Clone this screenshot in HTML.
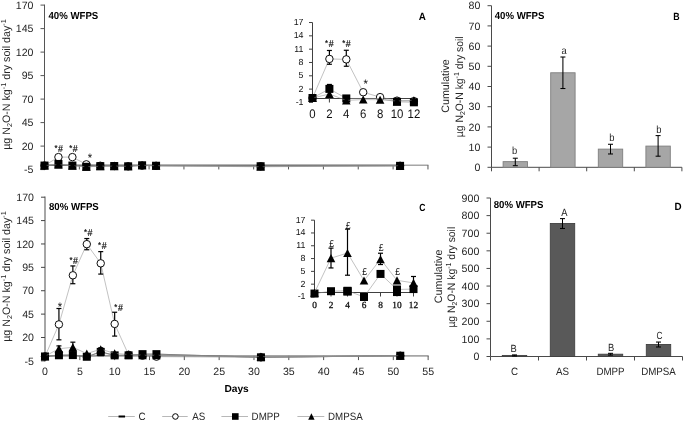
<!DOCTYPE html>
<html><head><meta charset="utf-8"><title>Figure</title>
<style>html,body{margin:0;padding:0;background:#fff}svg{display:block}text{text-rendering:geometricPrecision}</style></head>
<body>
<svg width="685" height="422" viewBox="0 0 685 422" font-family='"Liberation Sans", sans-serif'>
<rect width="685" height="422" fill="#fff"/>
<line x1="44.50" y1="4.60" x2="44.50" y2="170.10" stroke="#555" stroke-width="1.0"/>
<line x1="40.50" y1="5.10" x2="44.50" y2="5.10" stroke="#555" stroke-width="1.0"/>
<text transform="translate(33.50,8.80)" font-size="10.6" text-anchor="end" fill="#262626">170</text>
<line x1="40.50" y1="28.60" x2="44.50" y2="28.60" stroke="#555" stroke-width="1.0"/>
<text transform="translate(33.50,32.30)" font-size="10.6" text-anchor="end" fill="#262626">145</text>
<line x1="40.50" y1="52.10" x2="44.50" y2="52.10" stroke="#555" stroke-width="1.0"/>
<text transform="translate(33.50,55.80)" font-size="10.6" text-anchor="end" fill="#262626">120</text>
<line x1="40.50" y1="75.60" x2="44.50" y2="75.60" stroke="#555" stroke-width="1.0"/>
<text transform="translate(33.50,79.30)" font-size="10.6" text-anchor="end" fill="#262626">95</text>
<line x1="40.50" y1="99.10" x2="44.50" y2="99.10" stroke="#555" stroke-width="1.0"/>
<text transform="translate(33.50,102.80)" font-size="10.6" text-anchor="end" fill="#262626">70</text>
<line x1="40.50" y1="122.60" x2="44.50" y2="122.60" stroke="#555" stroke-width="1.0"/>
<text transform="translate(33.50,126.30)" font-size="10.6" text-anchor="end" fill="#262626">45</text>
<line x1="40.50" y1="146.10" x2="44.50" y2="146.10" stroke="#555" stroke-width="1.0"/>
<text transform="translate(33.50,149.80)" font-size="10.6" text-anchor="end" fill="#262626">20</text>
<line x1="40.50" y1="169.60" x2="44.50" y2="169.60" stroke="#555" stroke-width="1.0"/>
<text transform="translate(33.50,173.30)" font-size="10.6" text-anchor="end" fill="#262626">-5</text>
<line x1="44.50" y1="165.25" x2="428.46" y2="165.25" stroke="#a6a6a6" stroke-width="1.4"/>
<line x1="44.50" y1="165.25" x2="44.50" y2="169.45" stroke="#555" stroke-width="1.0"/>
<line x1="79.36" y1="165.25" x2="79.36" y2="169.45" stroke="#555" stroke-width="1.0"/>
<line x1="114.22" y1="165.25" x2="114.22" y2="169.45" stroke="#555" stroke-width="1.0"/>
<line x1="149.08" y1="165.25" x2="149.08" y2="169.45" stroke="#555" stroke-width="1.0"/>
<line x1="183.94" y1="165.25" x2="183.94" y2="169.45" stroke="#555" stroke-width="1.0"/>
<line x1="218.80" y1="165.25" x2="218.80" y2="169.45" stroke="#555" stroke-width="1.0"/>
<line x1="253.66" y1="165.25" x2="253.66" y2="169.45" stroke="#555" stroke-width="1.0"/>
<line x1="288.52" y1="165.25" x2="288.52" y2="169.45" stroke="#555" stroke-width="1.0"/>
<line x1="323.38" y1="165.25" x2="323.38" y2="169.45" stroke="#555" stroke-width="1.0"/>
<line x1="358.24" y1="165.25" x2="358.24" y2="169.45" stroke="#555" stroke-width="1.0"/>
<line x1="393.10" y1="165.25" x2="393.10" y2="169.45" stroke="#555" stroke-width="1.0"/>
<line x1="427.96" y1="165.25" x2="427.96" y2="169.45" stroke="#555" stroke-width="1.0"/>
<polyline points="44.50,165.25 400.07,165.25" fill="none" stroke="#4d4d4d" stroke-width="0.9"/>
<text transform="translate(48.50,18.50) scale(0.945,1)" font-size="10.2" text-anchor="start" font-weight="bold" fill="#000">40% WFPS</text>
<text transform="translate(422.20,20.00) scale(0.945,1)" font-size="10.4" text-anchor="middle" font-weight="bold" fill="#000">A</text>
<text transform="translate(10.40,84.50) rotate(-90) scale(0.99,1)" font-size="10.8" text-anchor="middle" fill="#262626">µg N<tspan font-size="7.2" dy="2">2</tspan><tspan dy="-2">O-N kg</tspan><tspan font-size="7.4" dy="-4">-1</tspan><tspan dy="4"> dry soil day</tspan><tspan font-size="7.4" dy="-4">-1</tspan></text>
<polyline points="44.50,165.56 58.44,163.96 72.39,165.56 86.33,166.78 100.28,166.12 114.22,166.03 128.16,166.31 142.11,165.28 156.05,165.75 260.63,166.22 400.07,165.84" fill="none" stroke="#8f8f8f" stroke-width="0.55"/>
<rect x="41.25" y="164.56" width="6.5" height="2.0" fill="#000"/>
<rect x="55.19" y="162.96" width="6.5" height="2.0" fill="#000"/>
<rect x="69.14" y="164.56" width="6.5" height="2.0" fill="#000"/>
<rect x="83.08" y="165.78" width="6.5" height="2.0" fill="#000"/>
<rect x="97.03" y="165.12" width="6.5" height="2.0" fill="#000"/>
<rect x="110.97" y="165.03" width="6.5" height="2.0" fill="#000"/>
<rect x="124.91" y="165.31" width="6.5" height="2.0" fill="#000"/>
<rect x="138.86" y="164.28" width="6.5" height="2.0" fill="#000"/>
<rect x="152.80" y="164.75" width="6.5" height="2.0" fill="#000"/>
<rect x="257.38" y="165.22" width="6.5" height="2.0" fill="#000"/>
<rect x="396.82" y="164.84" width="6.5" height="2.0" fill="#000"/>
<polyline points="44.50,165.56 58.44,157.10 72.39,157.10 86.33,164.34 100.28,165.75 114.22,166.03 128.16,166.31 142.11,165.65 156.05,165.84 260.63,166.31 400.07,165.84" fill="none" stroke="#8f8f8f" stroke-width="0.55"/>
<circle cx="44.50" cy="165.56" r="3.73" fill="#fff" stroke="#000" stroke-width="0.95"/>
<circle cx="58.44" cy="157.10" r="3.73" fill="#fff" stroke="#000" stroke-width="0.95"/>
<circle cx="72.39" cy="157.10" r="3.73" fill="#fff" stroke="#000" stroke-width="0.95"/>
<circle cx="86.33" cy="164.34" r="3.73" fill="#fff" stroke="#000" stroke-width="0.95"/>
<circle cx="100.28" cy="165.75" r="3.73" fill="#fff" stroke="#000" stroke-width="0.95"/>
<circle cx="114.22" cy="166.03" r="3.73" fill="#fff" stroke="#000" stroke-width="0.95"/>
<circle cx="128.16" cy="166.31" r="3.73" fill="#fff" stroke="#000" stroke-width="0.95"/>
<circle cx="142.11" cy="165.65" r="3.73" fill="#fff" stroke="#000" stroke-width="0.95"/>
<circle cx="156.05" cy="165.84" r="3.73" fill="#fff" stroke="#000" stroke-width="0.95"/>
<circle cx="260.63" cy="166.31" r="3.73" fill="#fff" stroke="#000" stroke-width="0.95"/>
<circle cx="400.07" cy="165.84" r="3.73" fill="#fff" stroke="#000" stroke-width="0.95"/>
<polyline points="44.50,165.56 58.44,163.96 72.39,165.56 86.33,166.78 100.28,166.12 114.22,166.03 128.16,166.31 142.11,165.28 156.05,165.75 260.63,166.22 400.07,165.84" fill="none" stroke="#8f8f8f" stroke-width="0.55"/>
<rect x="40.50" y="161.56" width="8.0" height="8.0" fill="#000"/>
<rect x="54.44" y="159.96" width="8.0" height="8.0" fill="#000"/>
<rect x="68.39" y="161.56" width="8.0" height="8.0" fill="#000"/>
<rect x="82.33" y="162.78" width="8.0" height="8.0" fill="#000"/>
<rect x="96.28" y="162.12" width="8.0" height="8.0" fill="#000"/>
<rect x="110.22" y="162.03" width="8.0" height="8.0" fill="#000"/>
<rect x="124.16" y="162.31" width="8.0" height="8.0" fill="#000"/>
<rect x="138.11" y="161.28" width="8.0" height="8.0" fill="#000"/>
<rect x="152.05" y="161.75" width="8.0" height="8.0" fill="#000"/>
<rect x="256.63" y="162.22" width="8.0" height="8.0" fill="#000"/>
<rect x="396.07" y="161.84" width="8.0" height="8.0" fill="#000"/>
<polyline points="44.50,165.56 58.44,164.62 72.39,165.75 86.33,166.78 100.28,166.22 114.22,166.12 128.16,166.31 142.11,165.28 156.05,165.75 260.63,166.78 400.07,165.84" fill="none" stroke="#8f8f8f" stroke-width="0.55"/>
<polygon points="44.50,161.51 48.80,169.61 40.20,169.61" fill="#000"/>
<polygon points="58.44,160.57 62.74,168.67 54.14,168.67" fill="#000"/>
<polygon points="72.39,161.70 76.69,169.80 68.09,169.80" fill="#000"/>
<polygon points="86.33,162.73 90.63,170.83 82.03,170.83" fill="#000"/>
<polygon points="100.28,162.17 104.58,170.27 95.98,170.27" fill="#000"/>
<polygon points="114.22,162.07 118.52,170.17 109.92,170.17" fill="#000"/>
<polygon points="128.16,162.26 132.46,170.36 123.86,170.36" fill="#000"/>
<polygon points="142.11,161.23 146.41,169.33 137.81,169.33" fill="#000"/>
<polygon points="156.05,161.70 160.35,169.80 151.75,169.80" fill="#000"/>
<polygon points="260.63,162.73 264.93,170.83 256.33,170.83" fill="#000"/>
<polygon points="400.07,161.79 404.37,169.89 395.77,169.89" fill="#000"/>
<text transform="translate(58.64,151.60) scale(0.9,1)" font-size="9.8" text-anchor="middle" fill="#111" stroke="#111" stroke-width="0.2"><tspan font-size="8.6" dy="-1.1">*</tspan><tspan dy="1.1" dx="0.6">#</tspan></text>
<text transform="translate(73.39,151.60) scale(0.9,1)" font-size="9.8" text-anchor="middle" fill="#111" stroke="#111" stroke-width="0.2"><tspan font-size="8.6" dy="-1.1">*</tspan><tspan dy="1.1" dx="0.6">#</tspan></text>
<text transform="translate(89.93,162.44) scale(0.9,1)" font-size="12.5" text-anchor="middle" fill="#111">*</text>
<line x1="312.50" y1="22.52" x2="312.50" y2="102.44" stroke="#404040" stroke-width="1"/>
<line x1="309.00" y1="22.52" x2="312.50" y2="22.52" stroke="#404040" stroke-width="1"/>
<text transform="translate(303.50,25.02)" font-size="8.8" text-anchor="end" fill="#111">17</text>
<line x1="309.00" y1="35.84" x2="312.50" y2="35.84" stroke="#404040" stroke-width="1"/>
<text transform="translate(303.50,38.34)" font-size="8.8" text-anchor="end" fill="#111">14</text>
<line x1="309.00" y1="49.16" x2="312.50" y2="49.16" stroke="#404040" stroke-width="1"/>
<text transform="translate(303.50,51.66)" font-size="8.8" text-anchor="end" fill="#111">11</text>
<line x1="309.00" y1="62.48" x2="312.50" y2="62.48" stroke="#404040" stroke-width="1"/>
<text transform="translate(303.50,64.98)" font-size="8.8" text-anchor="end" fill="#111">8</text>
<line x1="309.00" y1="75.80" x2="312.50" y2="75.80" stroke="#404040" stroke-width="1"/>
<text transform="translate(303.50,78.30)" font-size="8.8" text-anchor="end" fill="#111">5</text>
<line x1="309.00" y1="89.12" x2="312.50" y2="89.12" stroke="#404040" stroke-width="1"/>
<text transform="translate(303.50,91.62)" font-size="8.8" text-anchor="end" fill="#111">2</text>
<line x1="309.00" y1="102.44" x2="312.50" y2="102.44" stroke="#404040" stroke-width="1"/>
<text transform="translate(303.50,104.94)" font-size="8.8" text-anchor="end" fill="#111">-1</text>
<line x1="312.50" y1="98.50" x2="416.90" y2="98.50" stroke="#404040" stroke-width="1"/>
<line x1="312.50" y1="98.50" x2="312.50" y2="102.50" stroke="#404040" stroke-width="1"/>
<text transform="translate(312.50,118.10) scale(0.92,1)" font-size="12.4" text-anchor="middle" fill="#111">0</text>
<line x1="329.40" y1="98.50" x2="329.40" y2="102.50" stroke="#404040" stroke-width="1"/>
<text transform="translate(329.40,118.10) scale(0.92,1)" font-size="12.4" text-anchor="middle" fill="#111">2</text>
<line x1="346.30" y1="98.50" x2="346.30" y2="102.50" stroke="#404040" stroke-width="1"/>
<text transform="translate(346.30,118.10) scale(0.92,1)" font-size="12.4" text-anchor="middle" fill="#111">4</text>
<line x1="363.20" y1="98.50" x2="363.20" y2="102.50" stroke="#404040" stroke-width="1"/>
<text transform="translate(363.20,118.10) scale(0.92,1)" font-size="12.4" text-anchor="middle" fill="#111">6</text>
<line x1="380.10" y1="98.50" x2="380.10" y2="102.50" stroke="#404040" stroke-width="1"/>
<text transform="translate(380.10,118.10) scale(0.92,1)" font-size="12.4" text-anchor="middle" fill="#111">8</text>
<line x1="397.00" y1="98.50" x2="397.00" y2="102.50" stroke="#404040" stroke-width="1"/>
<text transform="translate(397.00,118.10) scale(0.92,1)" font-size="12.4" text-anchor="middle" fill="#111">10</text>
<line x1="413.90" y1="98.50" x2="413.90" y2="102.50" stroke="#404040" stroke-width="1"/>
<text transform="translate(413.90,118.10) scale(0.92,1)" font-size="12.4" text-anchor="middle" fill="#111">12</text>
<polyline points="" fill="none" stroke="#8f8f8f" stroke-width="0.55"/>
<polyline points="312.50,98.00 329.40,58.93 346.30,59.37 363.20,92.23 380.10,97.11 397.00,100.66 413.90,101.11" fill="none" stroke="#8f8f8f" stroke-width="0.55"/>
<line x1="329.40" y1="50.49" x2="329.40" y2="64.26" stroke="#000" stroke-width="1.2"/>
<line x1="326.90" y1="50.49" x2="331.90" y2="50.49" stroke="#000" stroke-width="1.2"/>
<line x1="326.90" y1="64.26" x2="331.90" y2="64.26" stroke="#000" stroke-width="1.2"/>
<line x1="346.30" y1="50.27" x2="346.30" y2="66.25" stroke="#000" stroke-width="1.2"/>
<line x1="343.80" y1="50.27" x2="348.80" y2="50.27" stroke="#000" stroke-width="1.2"/>
<line x1="343.80" y1="66.25" x2="348.80" y2="66.25" stroke="#000" stroke-width="1.2"/>
<circle cx="312.50" cy="98.00" r="3.73" fill="#fff" stroke="#000" stroke-width="0.95"/>
<circle cx="329.40" cy="58.93" r="3.73" fill="#fff" stroke="#000" stroke-width="0.95"/>
<circle cx="346.30" cy="59.37" r="3.73" fill="#fff" stroke="#000" stroke-width="0.95"/>
<circle cx="363.20" cy="92.23" r="3.73" fill="#fff" stroke="#000" stroke-width="0.95"/>
<circle cx="380.10" cy="97.11" r="3.73" fill="#fff" stroke="#000" stroke-width="0.95"/>
<circle cx="397.00" cy="100.66" r="3.73" fill="#fff" stroke="#000" stroke-width="0.95"/>
<circle cx="413.90" cy="101.11" r="3.73" fill="#fff" stroke="#000" stroke-width="0.95"/>
<polyline points="312.50,98.00 329.40,88.90 346.30,98.44 363.20,98.44 380.10,98.44 397.00,101.82 413.90,102.31" fill="none" stroke="#8f8f8f" stroke-width="0.55"/>
<line x1="329.40" y1="84.46" x2="329.40" y2="88.90" stroke="#000" stroke-width="1.2"/>
<line x1="326.90" y1="84.46" x2="331.90" y2="84.46" stroke="#000" stroke-width="1.2"/>
<rect x="308.50" y="94.00" width="8.0" height="8.0" fill="#000"/>
<rect x="325.40" y="84.90" width="8.0" height="8.0" fill="#000"/>
<rect x="342.30" y="94.44" width="8.0" height="8.0" fill="#000"/>
<rect x="393.00" y="97.82" width="8.0" height="8.0" fill="#000"/>
<rect x="409.90" y="98.31" width="8.0" height="8.0" fill="#000"/>
<polyline points="312.50,98.00 329.40,94.00 346.30,100.44 363.20,99.55 380.10,99.78 397.00,101.11 413.90,100.22" fill="none" stroke="#8f8f8f" stroke-width="0.55"/>
<polygon points="312.50,93.95 316.80,102.05 308.20,102.05" fill="#000"/>
<polygon points="329.40,89.95 333.70,98.05 325.10,98.05" fill="#000"/>
<polygon points="346.30,96.39 350.60,104.49 342.00,104.49" fill="#000"/>
<polygon points="363.20,95.50 367.50,103.60 358.90,103.60" fill="#000"/>
<polygon points="380.10,95.73 384.40,103.83 375.80,103.83" fill="#000"/>
<polygon points="397.00,97.06 401.30,105.16 392.70,105.16" fill="#000"/>
<polygon points="413.90,96.17 418.20,104.27 409.60,104.27" fill="#000"/>
<text transform="translate(329.30,46.63) scale(0.9,1)" font-size="9.8" text-anchor="middle" fill="#111" stroke="#111" stroke-width="0.2"><tspan font-size="8.6" dy="-1.1">*</tspan><tspan dy="1.1" dx="0.6">#</tspan></text>
<text transform="translate(346.50,46.67) scale(0.9,1)" font-size="9.8" text-anchor="middle" fill="#111" stroke="#111" stroke-width="0.2"><tspan font-size="8.6" dy="-1.1">*</tspan><tspan dy="1.1" dx="0.6">#</tspan></text>
<text transform="translate(365.60,88.33) scale(0.9,1)" font-size="12.5" text-anchor="middle" fill="#111">*</text>
<line x1="45.00" y1="196.60" x2="45.00" y2="361.38" stroke="#a6a6a6" stroke-width="2.0"/>
<line x1="41.00" y1="197.20" x2="45.00" y2="197.20" stroke="#444" stroke-width="1.0"/>
<text transform="translate(34.00,200.90)" font-size="10.6" text-anchor="end" fill="#262626">170</text>
<line x1="41.00" y1="220.58" x2="45.00" y2="220.58" stroke="#444" stroke-width="1.0"/>
<text transform="translate(34.00,224.28)" font-size="10.6" text-anchor="end" fill="#262626">145</text>
<line x1="41.00" y1="243.96" x2="45.00" y2="243.96" stroke="#444" stroke-width="1.0"/>
<text transform="translate(34.00,247.66)" font-size="10.6" text-anchor="end" fill="#262626">120</text>
<line x1="41.00" y1="267.35" x2="45.00" y2="267.35" stroke="#444" stroke-width="1.0"/>
<text transform="translate(34.00,271.05)" font-size="10.6" text-anchor="end" fill="#262626">95</text>
<line x1="41.00" y1="290.73" x2="45.00" y2="290.73" stroke="#444" stroke-width="1.0"/>
<text transform="translate(34.00,294.43)" font-size="10.6" text-anchor="end" fill="#262626">70</text>
<line x1="41.00" y1="314.11" x2="45.00" y2="314.11" stroke="#444" stroke-width="1.0"/>
<text transform="translate(34.00,317.81)" font-size="10.6" text-anchor="end" fill="#262626">45</text>
<line x1="41.00" y1="337.49" x2="45.00" y2="337.49" stroke="#444" stroke-width="1.0"/>
<text transform="translate(34.00,341.19)" font-size="10.6" text-anchor="end" fill="#262626">20</text>
<line x1="41.00" y1="360.88" x2="45.00" y2="360.88" stroke="#444" stroke-width="1.0"/>
<text transform="translate(34.00,364.58)" font-size="10.6" text-anchor="end" fill="#262626">-5</text>
<line x1="45.00" y1="355.90" x2="428.63" y2="355.90" stroke="#a6a6a6" stroke-width="1.7"/>
<line x1="45.00" y1="355.90" x2="45.00" y2="360.10" stroke="#555" stroke-width="1.0"/>
<line x1="79.83" y1="355.90" x2="79.83" y2="360.10" stroke="#555" stroke-width="1.0"/>
<line x1="114.66" y1="355.90" x2="114.66" y2="360.10" stroke="#555" stroke-width="1.0"/>
<line x1="149.49" y1="355.90" x2="149.49" y2="360.10" stroke="#555" stroke-width="1.0"/>
<line x1="184.32" y1="355.90" x2="184.32" y2="360.10" stroke="#555" stroke-width="1.0"/>
<line x1="219.15" y1="355.90" x2="219.15" y2="360.10" stroke="#555" stroke-width="1.0"/>
<line x1="253.98" y1="355.90" x2="253.98" y2="360.10" stroke="#555" stroke-width="1.0"/>
<line x1="288.81" y1="355.90" x2="288.81" y2="360.10" stroke="#555" stroke-width="1.0"/>
<line x1="323.64" y1="355.90" x2="323.64" y2="360.10" stroke="#555" stroke-width="1.0"/>
<line x1="358.47" y1="355.90" x2="358.47" y2="360.10" stroke="#555" stroke-width="1.0"/>
<line x1="393.30" y1="355.90" x2="393.30" y2="360.10" stroke="#555" stroke-width="1.0"/>
<line x1="428.13" y1="355.90" x2="428.13" y2="360.10" stroke="#555" stroke-width="1.0"/>
<polyline points="45.00,356.48 58.93,355.26 72.86,355.08 86.80,356.76 100.73,351.90 114.66,355.36 128.59,355.36 142.52,354.14 156.46,354.14 260.95,357.32 400.27,355.73" fill="none" stroke="#555" stroke-width="0.85"/>
<text transform="translate(49.00,209.60) scale(0.945,1)" font-size="10.2" text-anchor="start" font-weight="bold" fill="#000">80% WFPS</text>
<text transform="translate(422.40,210.60) scale(0.82,1)" font-size="10.4" text-anchor="middle" font-weight="bold" fill="#000">C</text>
<text transform="translate(10.40,276.50) rotate(-90) scale(0.99,1)" font-size="10.8" text-anchor="middle" fill="#262626">µg N<tspan font-size="7.2" dy="2">2</tspan><tspan dy="-2">O-N kg</tspan><tspan font-size="7.4" dy="-4">-1</tspan><tspan dy="4"> dry soil day</tspan><tspan font-size="7.4" dy="-4">-1</tspan></text>
<polyline points="45.00,356.48 58.93,355.26 72.86,355.08 86.80,356.76 100.73,355.26 114.66,355.36 128.59,355.36 142.52,355.26 156.46,355.26 260.95,357.32 400.27,355.73" fill="none" stroke="#8f8f8f" stroke-width="0.55"/>
<rect x="41.75" y="355.48" width="6.5" height="2.0" fill="#000"/>
<rect x="55.68" y="354.26" width="6.5" height="2.0" fill="#000"/>
<rect x="69.61" y="354.08" width="6.5" height="2.0" fill="#000"/>
<rect x="83.55" y="355.76" width="6.5" height="2.0" fill="#000"/>
<rect x="97.48" y="354.26" width="6.5" height="2.0" fill="#000"/>
<rect x="111.41" y="354.36" width="6.5" height="2.0" fill="#000"/>
<rect x="125.34" y="354.36" width="6.5" height="2.0" fill="#000"/>
<rect x="139.27" y="354.26" width="6.5" height="2.0" fill="#000"/>
<rect x="153.21" y="354.26" width="6.5" height="2.0" fill="#000"/>
<rect x="257.70" y="356.32" width="6.5" height="2.0" fill="#000"/>
<rect x="397.02" y="354.73" width="6.5" height="2.0" fill="#000"/>
<polyline points="45.00,356.48 58.93,324.40 72.86,275.30 86.80,244.15 100.73,263.32 114.66,323.93 128.59,354.80 142.52,355.73 156.46,356.67 260.95,357.32 400.27,355.73" fill="none" stroke="#8f8f8f" stroke-width="0.55"/>
<line x1="58.93" y1="308.50" x2="58.93" y2="339.83" stroke="#000" stroke-width="1.2"/>
<line x1="56.43" y1="308.50" x2="61.43" y2="308.50" stroke="#000" stroke-width="1.2"/>
<line x1="56.43" y1="339.83" x2="61.43" y2="339.83" stroke="#000" stroke-width="1.2"/>
<line x1="72.86" y1="265.94" x2="72.86" y2="283.71" stroke="#000" stroke-width="1.2"/>
<line x1="70.36" y1="265.94" x2="75.36" y2="265.94" stroke="#000" stroke-width="1.2"/>
<line x1="70.36" y1="283.71" x2="75.36" y2="283.71" stroke="#000" stroke-width="1.2"/>
<line x1="86.80" y1="238.54" x2="86.80" y2="249.76" stroke="#000" stroke-width="1.2"/>
<line x1="84.30" y1="238.54" x2="89.30" y2="238.54" stroke="#000" stroke-width="1.2"/>
<line x1="84.30" y1="249.76" x2="89.30" y2="249.76" stroke="#000" stroke-width="1.2"/>
<line x1="100.73" y1="251.63" x2="100.73" y2="274.08" stroke="#000" stroke-width="1.2"/>
<line x1="98.23" y1="251.63" x2="103.23" y2="251.63" stroke="#000" stroke-width="1.2"/>
<line x1="98.23" y1="274.08" x2="103.23" y2="274.08" stroke="#000" stroke-width="1.2"/>
<line x1="114.66" y1="312.24" x2="114.66" y2="336.09" stroke="#000" stroke-width="1.2"/>
<line x1="112.16" y1="312.24" x2="117.16" y2="312.24" stroke="#000" stroke-width="1.2"/>
<line x1="112.16" y1="336.09" x2="117.16" y2="336.09" stroke="#000" stroke-width="1.2"/>
<circle cx="45.00" cy="356.48" r="3.73" fill="#fff" stroke="#000" stroke-width="0.95"/>
<circle cx="58.93" cy="324.40" r="3.73" fill="#fff" stroke="#000" stroke-width="0.95"/>
<circle cx="72.86" cy="275.30" r="3.73" fill="#fff" stroke="#000" stroke-width="0.95"/>
<circle cx="86.80" cy="244.15" r="3.73" fill="#fff" stroke="#000" stroke-width="0.95"/>
<circle cx="100.73" cy="263.32" r="3.73" fill="#fff" stroke="#000" stroke-width="0.95"/>
<circle cx="114.66" cy="323.93" r="3.73" fill="#fff" stroke="#000" stroke-width="0.95"/>
<circle cx="128.59" cy="354.80" r="3.73" fill="#fff" stroke="#000" stroke-width="0.95"/>
<circle cx="142.52" cy="355.73" r="3.73" fill="#fff" stroke="#000" stroke-width="0.95"/>
<circle cx="156.46" cy="356.67" r="3.73" fill="#fff" stroke="#000" stroke-width="0.95"/>
<circle cx="260.95" cy="357.32" r="3.73" fill="#fff" stroke="#000" stroke-width="0.95"/>
<circle cx="400.27" cy="355.73" r="3.73" fill="#fff" stroke="#000" stroke-width="0.95"/>
<polyline points="45.00,356.48 58.93,355.26 72.86,355.08 86.80,356.76 100.73,351.90 114.66,355.36 128.59,355.36 142.52,354.14 156.46,354.14 260.95,357.32 400.27,355.73" fill="none" stroke="#8f8f8f" stroke-width="0.55"/>
<rect x="41.00" y="352.48" width="8.0" height="8.0" fill="#000"/>
<rect x="54.93" y="351.26" width="8.0" height="8.0" fill="#000"/>
<rect x="68.86" y="351.08" width="8.0" height="8.0" fill="#000"/>
<rect x="82.80" y="352.76" width="8.0" height="8.0" fill="#000"/>
<rect x="96.73" y="347.90" width="8.0" height="8.0" fill="#000"/>
<rect x="110.66" y="351.36" width="8.0" height="8.0" fill="#000"/>
<rect x="124.59" y="351.36" width="8.0" height="8.0" fill="#000"/>
<rect x="138.52" y="350.14" width="8.0" height="8.0" fill="#000"/>
<rect x="152.46" y="350.14" width="8.0" height="8.0" fill="#000"/>
<rect x="256.95" y="353.32" width="8.0" height="8.0" fill="#000"/>
<rect x="396.27" y="351.73" width="8.0" height="8.0" fill="#000"/>
<polyline points="45.00,356.20 58.93,348.72 72.86,347.31 86.80,353.58 100.73,349.19 114.66,353.39 128.59,354.52 142.52,355.26 156.46,355.26 260.95,356.67 400.27,355.73" fill="none" stroke="#8f8f8f" stroke-width="0.55"/>
<line x1="58.93" y1="345.91" x2="58.93" y2="351.06" stroke="#000" stroke-width="1.2"/>
<line x1="56.43" y1="345.91" x2="61.43" y2="345.91" stroke="#000" stroke-width="1.2"/>
<line x1="56.43" y1="351.06" x2="61.43" y2="351.06" stroke="#000" stroke-width="1.2"/>
<line x1="72.86" y1="342.17" x2="72.86" y2="351.99" stroke="#000" stroke-width="1.2"/>
<line x1="70.36" y1="342.17" x2="75.36" y2="342.17" stroke="#000" stroke-width="1.2"/>
<line x1="70.36" y1="351.99" x2="75.36" y2="351.99" stroke="#000" stroke-width="1.2"/>
<line x1="100.73" y1="347.78" x2="100.73" y2="350.12" stroke="#000" stroke-width="1.2"/>
<line x1="98.23" y1="347.78" x2="103.23" y2="347.78" stroke="#000" stroke-width="1.2"/>
<line x1="98.23" y1="350.12" x2="103.23" y2="350.12" stroke="#000" stroke-width="1.2"/>
<line x1="128.59" y1="352.65" x2="128.59" y2="355.92" stroke="#000" stroke-width="1.2"/>
<line x1="126.09" y1="352.65" x2="131.09" y2="352.65" stroke="#000" stroke-width="1.2"/>
<line x1="126.09" y1="355.92" x2="131.09" y2="355.92" stroke="#000" stroke-width="1.2"/>
<polygon points="45.00,352.15 49.30,360.25 40.70,360.25" fill="#000"/>
<polygon points="58.93,344.67 63.23,352.77 54.63,352.77" fill="#000"/>
<polygon points="72.86,343.26 77.16,351.36 68.56,351.36" fill="#000"/>
<polygon points="86.80,349.53 91.10,357.63 82.50,357.63" fill="#000"/>
<polygon points="100.73,345.14 105.03,353.24 96.43,353.24" fill="#000"/>
<polygon points="114.66,349.34 118.96,357.44 110.36,357.44" fill="#000"/>
<polygon points="128.59,350.47 132.89,358.57 124.29,358.57" fill="#000"/>
<polygon points="142.52,351.21 146.82,359.31 138.22,359.31" fill="#000"/>
<polygon points="156.46,351.21 160.76,359.31 152.16,359.31" fill="#000"/>
<polygon points="260.95,352.62 265.25,360.72 256.65,360.72" fill="#000"/>
<polygon points="400.27,351.68 404.57,359.78 395.97,359.78" fill="#000"/>
<text transform="translate(59.93,310.50) scale(0.9,1)" font-size="12.5" text-anchor="middle" fill="#111">*</text>
<text transform="translate(73.76,263.60) scale(0.9,1)" font-size="9.8" text-anchor="middle" fill="#111" stroke="#111" stroke-width="0.2"><tspan font-size="8.6" dy="-1.1">*</tspan><tspan dy="1.1" dx="0.6">#</tspan></text>
<text transform="translate(88.20,236.35) scale(0.9,1)" font-size="9.8" text-anchor="middle" fill="#111" stroke="#111" stroke-width="0.2"><tspan font-size="8.6" dy="-1.1">*</tspan><tspan dy="1.1" dx="0.6">#</tspan></text>
<text transform="translate(102.33,249.42) scale(0.9,1)" font-size="9.8" text-anchor="middle" fill="#111" stroke="#111" stroke-width="0.2"><tspan font-size="8.6" dy="-1.1">*</tspan><tspan dy="1.1" dx="0.6">#</tspan></text>
<text transform="translate(118.56,310.63) scale(0.9,1)" font-size="9.8" text-anchor="middle" fill="#111" stroke="#111" stroke-width="0.2"><tspan font-size="8.6" dy="-1.1">*</tspan><tspan dy="1.1" dx="0.6">#</tspan></text>
<text transform="translate(45.00,374.70)" font-size="10.6" text-anchor="middle" fill="#262626">0</text>
<text transform="translate(79.83,374.70)" font-size="10.6" text-anchor="middle" fill="#262626">5</text>
<text transform="translate(114.66,374.70)" font-size="10.6" text-anchor="middle" fill="#262626">10</text>
<text transform="translate(149.49,374.70)" font-size="10.6" text-anchor="middle" fill="#262626">15</text>
<text transform="translate(184.32,374.70)" font-size="10.6" text-anchor="middle" fill="#262626">20</text>
<text transform="translate(219.15,374.70)" font-size="10.6" text-anchor="middle" fill="#262626">25</text>
<text transform="translate(253.98,374.70)" font-size="10.6" text-anchor="middle" fill="#262626">30</text>
<text transform="translate(288.81,374.70)" font-size="10.6" text-anchor="middle" fill="#262626">35</text>
<text transform="translate(323.64,374.70)" font-size="10.6" text-anchor="middle" fill="#262626">40</text>
<text transform="translate(358.47,374.70)" font-size="10.6" text-anchor="middle" fill="#262626">45</text>
<text transform="translate(393.30,374.70)" font-size="10.6" text-anchor="middle" fill="#262626">50</text>
<text transform="translate(428.13,374.70)" font-size="10.6" text-anchor="middle" fill="#262626">55</text>
<text transform="translate(236.60,391.80)" font-size="10.2" text-anchor="middle" font-weight="bold" fill="#000">Days</text>
<line x1="314.50" y1="220.16" x2="314.50" y2="296.97" stroke="#404040" stroke-width="1"/>
<line x1="311.00" y1="220.16" x2="314.50" y2="220.16" stroke="#404040" stroke-width="1"/>
<text transform="translate(305.50,222.66)" font-size="8.8" text-anchor="end" fill="#111">17</text>
<line x1="311.00" y1="232.96" x2="314.50" y2="232.96" stroke="#404040" stroke-width="1"/>
<text transform="translate(305.50,235.46)" font-size="8.8" text-anchor="end" fill="#111">14</text>
<line x1="311.00" y1="245.76" x2="314.50" y2="245.76" stroke="#404040" stroke-width="1"/>
<text transform="translate(305.50,248.26)" font-size="8.8" text-anchor="end" fill="#111">11</text>
<line x1="311.00" y1="258.56" x2="314.50" y2="258.56" stroke="#404040" stroke-width="1"/>
<text transform="translate(305.50,261.06)" font-size="8.8" text-anchor="end" fill="#111">8</text>
<line x1="311.00" y1="271.37" x2="314.50" y2="271.37" stroke="#404040" stroke-width="1"/>
<text transform="translate(305.50,273.87)" font-size="8.8" text-anchor="end" fill="#111">5</text>
<line x1="311.00" y1="284.17" x2="314.50" y2="284.17" stroke="#404040" stroke-width="1"/>
<text transform="translate(305.50,286.67)" font-size="8.8" text-anchor="end" fill="#111">2</text>
<line x1="311.00" y1="296.97" x2="314.50" y2="296.97" stroke="#404040" stroke-width="1"/>
<text transform="translate(305.50,299.47)" font-size="8.8" text-anchor="end" fill="#111">-1</text>
<line x1="314.50" y1="292.50" x2="416.50" y2="292.50" stroke="#404040" stroke-width="1"/>
<line x1="314.50" y1="292.50" x2="314.50" y2="296.50" stroke="#404040" stroke-width="1"/>
<text transform="translate(314.50,307.80)" font-size="9.3" text-anchor="middle" font-family='"Liberation Serif", serif' fill="#111" stroke="#111" stroke-width="0.3">0</text>
<line x1="331.00" y1="292.50" x2="331.00" y2="296.50" stroke="#404040" stroke-width="1"/>
<text transform="translate(331.00,307.80)" font-size="9.3" text-anchor="middle" font-family='"Liberation Serif", serif' fill="#111" stroke="#111" stroke-width="0.3">2</text>
<line x1="347.50" y1="292.50" x2="347.50" y2="296.50" stroke="#404040" stroke-width="1"/>
<text transform="translate(347.50,307.80)" font-size="9.3" text-anchor="middle" font-family='"Liberation Serif", serif' fill="#111" stroke="#111" stroke-width="0.3">4</text>
<line x1="364.00" y1="292.50" x2="364.00" y2="296.50" stroke="#404040" stroke-width="1"/>
<text transform="translate(364.00,307.80)" font-size="9.3" text-anchor="middle" font-family='"Liberation Serif", serif' fill="#111" stroke="#111" stroke-width="0.3">6</text>
<line x1="380.50" y1="292.50" x2="380.50" y2="296.50" stroke="#404040" stroke-width="1"/>
<text transform="translate(380.50,307.80)" font-size="9.3" text-anchor="middle" font-family='"Liberation Serif", serif' fill="#111" stroke="#111" stroke-width="0.3">8</text>
<line x1="397.00" y1="292.50" x2="397.00" y2="296.50" stroke="#404040" stroke-width="1"/>
<text transform="translate(397.00,307.80)" font-size="9.3" text-anchor="middle" font-family='"Liberation Serif", serif' fill="#111" stroke="#111" stroke-width="0.3">10</text>
<line x1="413.50" y1="292.50" x2="413.50" y2="296.50" stroke="#404040" stroke-width="1"/>
<text transform="translate(413.50,307.80)" font-size="9.3" text-anchor="middle" font-family='"Liberation Serif", serif' fill="#111" stroke="#111" stroke-width="0.3">12</text>
<polyline points="" fill="none" stroke="#8f8f8f" stroke-width="0.55"/>
<polyline points="" fill="none" stroke="#8f8f8f" stroke-width="0.55"/>
<polyline points="314.50,293.55 331.00,291.21 347.50,290.78 364.00,296.97 380.50,273.93 397.00,289.50 413.50,289.07" fill="none" stroke="#8f8f8f" stroke-width="0.55"/>
<rect x="310.50" y="289.55" width="8.0" height="8.0" fill="#000"/>
<rect x="327.00" y="287.21" width="8.0" height="8.0" fill="#000"/>
<rect x="343.50" y="286.78" width="8.0" height="8.0" fill="#000"/>
<rect x="360.00" y="292.97" width="8.0" height="8.0" fill="#000"/>
<rect x="376.50" y="269.93" width="8.0" height="8.0" fill="#000"/>
<rect x="393.00" y="285.50" width="8.0" height="8.0" fill="#000"/>
<rect x="409.50" y="285.07" width="8.0" height="8.0" fill="#000"/>
<polyline points="314.50,292.70 331.00,258.14 347.50,253.02 364.00,280.54 380.50,259.20 397.00,280.33 413.50,282.89" fill="none" stroke="#8f8f8f" stroke-width="0.55"/>
<line x1="331.00" y1="248.11" x2="331.00" y2="267.95" stroke="#000" stroke-width="1.2"/>
<line x1="328.50" y1="248.11" x2="333.50" y2="248.11" stroke="#000" stroke-width="1.2"/>
<line x1="328.50" y1="267.95" x2="333.50" y2="267.95" stroke="#000" stroke-width="1.2"/>
<line x1="347.50" y1="229.12" x2="347.50" y2="275.21" stroke="#000" stroke-width="1.2"/>
<line x1="345.00" y1="229.12" x2="350.00" y2="229.12" stroke="#000" stroke-width="1.2"/>
<line x1="345.00" y1="275.21" x2="350.00" y2="275.21" stroke="#000" stroke-width="1.2"/>
<line x1="380.50" y1="253.23" x2="380.50" y2="264.54" stroke="#000" stroke-width="1.2"/>
<line x1="378.00" y1="253.23" x2="383.00" y2="253.23" stroke="#000" stroke-width="1.2"/>
<line x1="378.00" y1="264.54" x2="383.00" y2="264.54" stroke="#000" stroke-width="1.2"/>
<line x1="413.50" y1="276.49" x2="413.50" y2="287.15" stroke="#000" stroke-width="1.2"/>
<line x1="411.00" y1="276.49" x2="416.00" y2="276.49" stroke="#000" stroke-width="1.2"/>
<line x1="411.00" y1="287.15" x2="416.00" y2="287.15" stroke="#000" stroke-width="1.2"/>
<polygon points="314.50,288.65 318.80,296.75 310.20,296.75" fill="#000"/>
<polygon points="331.00,254.09 335.30,262.19 326.70,262.19" fill="#000"/>
<polygon points="347.50,248.97 351.80,257.07 343.20,257.07" fill="#000"/>
<polygon points="364.00,276.49 368.30,284.59 359.70,284.59" fill="#000"/>
<polygon points="380.50,255.15 384.80,263.25 376.20,263.25" fill="#000"/>
<polygon points="397.00,276.28 401.30,284.38 392.70,284.38" fill="#000"/>
<polygon points="413.50,278.84 417.80,286.94 409.20,286.94" fill="#000"/>
<text transform="translate(331.80,247.14) scale(0.86,1)" font-size="10.2" text-anchor="middle" fill="#111">£</text>
<text transform="translate(348.30,228.62) scale(0.86,1)" font-size="10.2" text-anchor="middle" fill="#111">£</text>
<text transform="translate(364.60,275.14) scale(0.86,1)" font-size="10.2" text-anchor="middle" fill="#111">£</text>
<text transform="translate(381.10,251.40) scale(0.86,1)" font-size="10.2" text-anchor="middle" fill="#111">£</text>
<text transform="translate(397.60,274.53) scale(0.86,1)" font-size="10.2" text-anchor="middle" fill="#111">£</text>
<rect x="393.00" y="288.06" width="8.0" height="8.0" fill="#000"/>
<rect x="343.30" y="287.22" width="8.4" height="8.4" fill="#000"/>
<line x1="491.50" y1="5.70" x2="491.50" y2="167.30" stroke="#4a4a4a" stroke-width="1"/>
<line x1="487.50" y1="167.30" x2="491.50" y2="167.30" stroke="#4a4a4a" stroke-width="1"/>
<text transform="translate(480.30,171.00)" font-size="10.6" text-anchor="end" fill="#262626">0</text>
<line x1="487.50" y1="147.10" x2="491.50" y2="147.10" stroke="#4a4a4a" stroke-width="1"/>
<text transform="translate(480.30,150.80)" font-size="10.6" text-anchor="end" fill="#262626">10</text>
<line x1="487.50" y1="126.90" x2="491.50" y2="126.90" stroke="#4a4a4a" stroke-width="1"/>
<text transform="translate(480.30,130.60)" font-size="10.6" text-anchor="end" fill="#262626">20</text>
<line x1="487.50" y1="106.70" x2="491.50" y2="106.70" stroke="#4a4a4a" stroke-width="1"/>
<text transform="translate(480.30,110.40)" font-size="10.6" text-anchor="end" fill="#262626">30</text>
<line x1="487.50" y1="86.50" x2="491.50" y2="86.50" stroke="#4a4a4a" stroke-width="1"/>
<text transform="translate(480.30,90.20)" font-size="10.6" text-anchor="end" fill="#262626">40</text>
<line x1="487.50" y1="66.30" x2="491.50" y2="66.30" stroke="#4a4a4a" stroke-width="1"/>
<text transform="translate(480.30,70.00)" font-size="10.6" text-anchor="end" fill="#262626">50</text>
<line x1="487.50" y1="46.10" x2="491.50" y2="46.10" stroke="#4a4a4a" stroke-width="1"/>
<text transform="translate(480.30,49.80)" font-size="10.6" text-anchor="end" fill="#262626">60</text>
<line x1="487.50" y1="25.90" x2="491.50" y2="25.90" stroke="#4a4a4a" stroke-width="1"/>
<text transform="translate(480.30,29.60)" font-size="10.6" text-anchor="end" fill="#262626">70</text>
<line x1="487.50" y1="5.70" x2="491.50" y2="5.70" stroke="#4a4a4a" stroke-width="1"/>
<text transform="translate(480.30,9.40)" font-size="10.6" text-anchor="end" fill="#262626">80</text>
<line x1="491.50" y1="167.30" x2="681.90" y2="167.30" stroke="#4a4a4a" stroke-width="1"/>
<line x1="491.50" y1="167.30" x2="491.50" y2="171.30" stroke="#4a4a4a" stroke-width="1"/>
<line x1="539.10" y1="167.30" x2="539.10" y2="171.30" stroke="#4a4a4a" stroke-width="1"/>
<line x1="586.70" y1="167.30" x2="586.70" y2="171.30" stroke="#4a4a4a" stroke-width="1"/>
<line x1="634.30" y1="167.30" x2="634.30" y2="171.30" stroke="#4a4a4a" stroke-width="1"/>
<line x1="681.90" y1="167.30" x2="681.90" y2="171.30" stroke="#4a4a4a" stroke-width="1"/>
<rect x="503.10" y="161.64" width="24.4" height="5.66" fill="#a6a6a6" stroke="#7f7f7f" stroke-width="0.9"/>
<line x1="515.30" y1="158.21" x2="515.30" y2="165.68" stroke="#000" stroke-width="1.05"/>
<line x1="512.80" y1="158.21" x2="517.80" y2="158.21" stroke="#000" stroke-width="1.05"/>
<line x1="512.80" y1="165.68" x2="517.80" y2="165.68" stroke="#000" stroke-width="1.05"/>
<text transform="translate(514.50,153.81) scale(0.9,1)" font-size="10.4" text-anchor="middle" fill="#262626">b</text>
<rect x="550.70" y="72.76" width="24.4" height="94.54" fill="#a6a6a6" stroke="#7f7f7f" stroke-width="0.9"/>
<line x1="562.90" y1="57.01" x2="562.90" y2="88.52" stroke="#000" stroke-width="1.05"/>
<line x1="560.40" y1="57.01" x2="565.40" y2="57.01" stroke="#000" stroke-width="1.05"/>
<line x1="560.40" y1="88.52" x2="565.40" y2="88.52" stroke="#000" stroke-width="1.05"/>
<text transform="translate(564.00,54.11) scale(0.9,1)" font-size="10.4" text-anchor="middle" fill="#262626">a</text>
<rect x="598.30" y="149.12" width="24.4" height="18.18" fill="#a6a6a6" stroke="#7f7f7f" stroke-width="0.9"/>
<line x1="610.50" y1="144.27" x2="610.50" y2="153.97" stroke="#000" stroke-width="1.05"/>
<line x1="608.00" y1="144.27" x2="613.00" y2="144.27" stroke="#000" stroke-width="1.05"/>
<line x1="608.00" y1="153.97" x2="613.00" y2="153.97" stroke="#000" stroke-width="1.05"/>
<text transform="translate(611.80,141.37) scale(0.9,1)" font-size="10.4" text-anchor="middle" fill="#262626">b</text>
<rect x="645.90" y="146.09" width="24.4" height="21.21" fill="#a6a6a6" stroke="#7f7f7f" stroke-width="0.9"/>
<line x1="658.10" y1="135.59" x2="658.10" y2="156.19" stroke="#000" stroke-width="1.05"/>
<line x1="655.60" y1="135.59" x2="660.60" y2="135.59" stroke="#000" stroke-width="1.05"/>
<line x1="655.60" y1="156.19" x2="660.60" y2="156.19" stroke="#000" stroke-width="1.05"/>
<text transform="translate(658.80,132.69) scale(0.9,1)" font-size="10.4" text-anchor="middle" fill="#262626">b</text>
<text transform="translate(494.70,19.20) scale(0.945,1)" font-size="10.2" text-anchor="start" font-weight="bold" fill="#000">40% WFPS</text>
<text transform="translate(676.50,19.50) scale(0.85,1)" font-size="10.4" text-anchor="middle" font-weight="bold" fill="#000">B</text>
<text transform="translate(448.50,86.00) rotate(-90) scale(0.99,1)" font-size="10.8" text-anchor="middle" fill="#262626">Cumulative</text>
<text transform="translate(462.60,86.80) rotate(-90) scale(0.96,1)" font-size="10.8" text-anchor="middle" fill="#262626">µg N<tspan font-size="7.2" dy="2">2</tspan><tspan dy="-2">O-N kg</tspan><tspan font-size="7.4" dy="-4">-1</tspan><tspan dy="4"> dry soil</tspan></text>
<line x1="490.50" y1="198.01" x2="490.50" y2="356.50" stroke="#4a4a4a" stroke-width="1"/>
<line x1="486.50" y1="356.50" x2="490.50" y2="356.50" stroke="#4a4a4a" stroke-width="1"/>
<text transform="translate(479.30,360.20)" font-size="10.6" text-anchor="end" fill="#262626">0</text>
<line x1="486.50" y1="338.89" x2="490.50" y2="338.89" stroke="#4a4a4a" stroke-width="1"/>
<text transform="translate(479.30,342.59)" font-size="10.6" text-anchor="end" fill="#262626">100</text>
<line x1="486.50" y1="321.28" x2="490.50" y2="321.28" stroke="#4a4a4a" stroke-width="1"/>
<text transform="translate(479.30,324.98)" font-size="10.6" text-anchor="end" fill="#262626">200</text>
<line x1="486.50" y1="303.67" x2="490.50" y2="303.67" stroke="#4a4a4a" stroke-width="1"/>
<text transform="translate(479.30,307.37)" font-size="10.6" text-anchor="end" fill="#262626">300</text>
<line x1="486.50" y1="286.06" x2="490.50" y2="286.06" stroke="#4a4a4a" stroke-width="1"/>
<text transform="translate(479.30,289.76)" font-size="10.6" text-anchor="end" fill="#262626">400</text>
<line x1="486.50" y1="268.45" x2="490.50" y2="268.45" stroke="#4a4a4a" stroke-width="1"/>
<text transform="translate(479.30,272.15)" font-size="10.6" text-anchor="end" fill="#262626">500</text>
<line x1="486.50" y1="250.84" x2="490.50" y2="250.84" stroke="#4a4a4a" stroke-width="1"/>
<text transform="translate(479.30,254.54)" font-size="10.6" text-anchor="end" fill="#262626">600</text>
<line x1="486.50" y1="233.23" x2="490.50" y2="233.23" stroke="#4a4a4a" stroke-width="1"/>
<text transform="translate(479.30,236.93)" font-size="10.6" text-anchor="end" fill="#262626">700</text>
<line x1="486.50" y1="215.62" x2="490.50" y2="215.62" stroke="#4a4a4a" stroke-width="1"/>
<text transform="translate(479.30,219.32)" font-size="10.6" text-anchor="end" fill="#262626">800</text>
<line x1="486.50" y1="198.01" x2="490.50" y2="198.01" stroke="#4a4a4a" stroke-width="1"/>
<text transform="translate(479.30,201.71)" font-size="10.6" text-anchor="end" fill="#262626">900</text>
<line x1="490.50" y1="356.50" x2="682.50" y2="356.50" stroke="#4a4a4a" stroke-width="1"/>
<line x1="490.50" y1="356.50" x2="490.50" y2="360.50" stroke="#4a4a4a" stroke-width="1"/>
<line x1="538.50" y1="356.50" x2="538.50" y2="360.50" stroke="#4a4a4a" stroke-width="1"/>
<line x1="586.50" y1="356.50" x2="586.50" y2="360.50" stroke="#4a4a4a" stroke-width="1"/>
<line x1="634.50" y1="356.50" x2="634.50" y2="360.50" stroke="#4a4a4a" stroke-width="1"/>
<line x1="682.50" y1="356.50" x2="682.50" y2="360.50" stroke="#4a4a4a" stroke-width="1"/>
<rect x="502.30" y="355.44" width="24.4" height="1.06" fill="#595959" stroke="#404040" stroke-width="0.9"/>
<line x1="514.50" y1="354.92" x2="514.50" y2="355.97" stroke="#000" stroke-width="1.05"/>
<line x1="512.00" y1="354.92" x2="517.00" y2="354.92" stroke="#000" stroke-width="1.05"/>
<line x1="512.00" y1="355.97" x2="517.00" y2="355.97" stroke="#000" stroke-width="1.05"/>
<text transform="translate(513.50,352.42) scale(0.9,1)" font-size="10.4" text-anchor="middle" fill="#262626">B</text>
<text transform="translate(514.50,374.60) scale(0.92,1)" font-size="10.6" text-anchor="middle" fill="#262626">C</text>
<rect x="550.30" y="223.54" width="24.4" height="132.96" fill="#595959" stroke="#404040" stroke-width="0.9"/>
<line x1="562.50" y1="218.61" x2="562.50" y2="228.48" stroke="#000" stroke-width="1.05"/>
<line x1="560.00" y1="218.61" x2="565.00" y2="218.61" stroke="#000" stroke-width="1.05"/>
<line x1="560.00" y1="228.48" x2="565.00" y2="228.48" stroke="#000" stroke-width="1.05"/>
<text transform="translate(564.40,216.21) scale(0.9,1)" font-size="10.4" text-anchor="middle" fill="#262626">A</text>
<text transform="translate(562.50,374.60) scale(0.92,1)" font-size="10.6" text-anchor="middle" fill="#262626">AS</text>
<rect x="598.30" y="354.21" width="24.4" height="2.29" fill="#595959" stroke="#404040" stroke-width="0.9"/>
<line x1="610.50" y1="353.33" x2="610.50" y2="355.09" stroke="#000" stroke-width="1.05"/>
<line x1="608.00" y1="353.33" x2="613.00" y2="353.33" stroke="#000" stroke-width="1.05"/>
<line x1="608.00" y1="355.09" x2="613.00" y2="355.09" stroke="#000" stroke-width="1.05"/>
<text transform="translate(611.10,351.23) scale(0.9,1)" font-size="10.4" text-anchor="middle" fill="#262626">B</text>
<text transform="translate(610.50,374.60) scale(0.92,1)" font-size="10.6" text-anchor="middle" fill="#262626">DMPP</text>
<rect x="646.30" y="344.53" width="24.4" height="11.97" fill="#595959" stroke="#404040" stroke-width="0.9"/>
<line x1="658.50" y1="342.06" x2="658.50" y2="346.99" stroke="#000" stroke-width="1.05"/>
<line x1="656.00" y1="342.06" x2="661.00" y2="342.06" stroke="#000" stroke-width="1.05"/>
<line x1="656.00" y1="346.99" x2="661.00" y2="346.99" stroke="#000" stroke-width="1.05"/>
<text transform="translate(659.40,339.46) scale(0.8,1)" font-size="10.4" text-anchor="middle" fill="#262626">C</text>
<text transform="translate(658.50,374.60) scale(0.92,1)" font-size="10.6" text-anchor="middle" fill="#262626">DMPSA</text>
<text transform="translate(493.70,207.60) scale(0.945,1)" font-size="10.2" text-anchor="start" font-weight="bold" fill="#000">80% WFPS</text>
<text transform="translate(678.00,210.00) scale(0.945,1)" font-size="10.4" text-anchor="middle" font-weight="bold" fill="#000">D</text>
<text transform="translate(441.80,276.40) rotate(-90) scale(0.99,1)" font-size="10.8" text-anchor="middle" fill="#262626">Cumulative</text>
<text transform="translate(455.10,277.20) rotate(-90) scale(0.96,1)" font-size="10.8" text-anchor="middle" fill="#262626">µg N<tspan font-size="7.2" dy="2">2</tspan><tspan dy="-2">O-N kg</tspan><tspan font-size="7.4" dy="-4">-1</tspan><tspan dy="4"> dry soil</tspan></text>
<line x1="108.20" y1="416.50" x2="134.80" y2="416.50" stroke="#9a9a9a" stroke-width="0.7"/>
<rect x="118.55" y="415.50" width="6.5" height="2" fill="#000"/>
<text transform="translate(138.60,420.20) scale(0.92,1)" font-size="10.6" text-anchor="start" fill="#262626">C</text>
<line x1="162.20" y1="416.50" x2="187.70" y2="416.50" stroke="#9a9a9a" stroke-width="0.7"/>
<circle cx="175.40" cy="416.50" r="2.80" fill="#fff" stroke="#000" stroke-width="1.0"/>
<text transform="translate(192.20,420.20) scale(0.92,1)" font-size="10.6" text-anchor="start" fill="#262626">AS</text>
<line x1="221.40" y1="416.50" x2="248.00" y2="416.50" stroke="#9a9a9a" stroke-width="0.7"/>
<rect x="232.00" y="413.20" width="6.6" height="6.6" fill="#000"/>
<text transform="translate(251.60,420.20) scale(0.92,1)" font-size="10.6" text-anchor="start" fill="#262626">DMPP</text>
<line x1="297.40" y1="416.50" x2="324.30" y2="416.50" stroke="#9a9a9a" stroke-width="0.7"/>
<polygon points="311.40,413.30 314.60,419.70 308.20,419.70" fill="#000"/>
<text transform="translate(328.00,420.20) scale(0.92,1)" font-size="10.6" text-anchor="start" fill="#262626">DMPSA</text>
</svg>
</body></html>
